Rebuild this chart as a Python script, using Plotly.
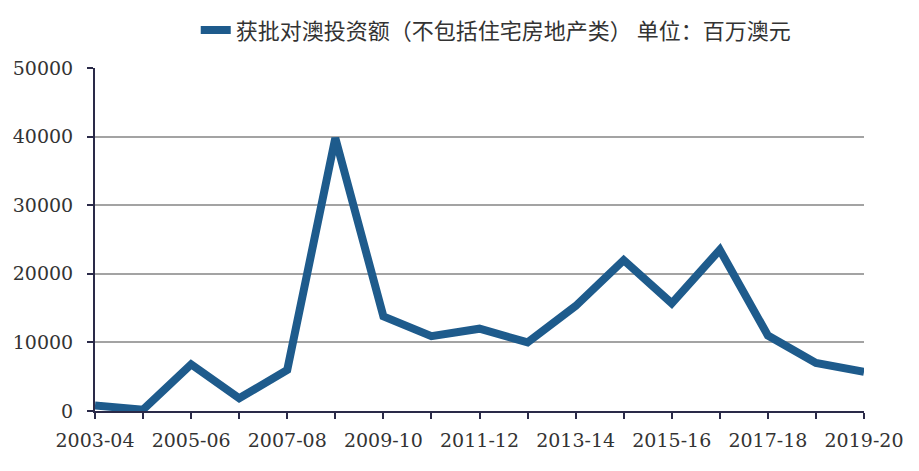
import plotly.graph_objects as go

categories = ["2003-04", "2004-05", "2005-06", "2006-07", "2007-08", "2008-09",
              "2009-10", "2010-11", "2011-12", "2012-13", "2013-14", "2014-15",
              "2015-16", "2016-17", "2017-18", "2018-19", "2019-20"]
values = [800, 200, 6800, 1850, 6000, 39800, 13800, 10900, 12000, 10000,
          15300, 22000, 15700, 23500, 11000, 7000, 5700]
series_name = "获批对澳投资额（不包括住宅房地产类） 单位：百万澳元"
y_ticks = [0, 10000, 20000, 30000, 40000, 50000]

x_idx = list(range(len(categories)))

fig = go.Figure()
fig.add_trace(go.Scatter(
    x=x_idx, y=values, mode="lines", name=series_name,
    line=dict(color="#1e5b8c", width=8),
    showlegend=True,
))

fig.update_layout(
    width=911, height=463,
    margin=dict(l=87, r=55, t=60, b=60, autoexpand=False),
    paper_bgcolor="white", plot_bgcolor="white",
    showlegend=True,
    legend=dict(orientation="h", x=0.131, xanchor="left", y=1.11, yanchor="middle",
                font=dict(family="Noto Sans CJK SC", size=22, color="#333333"),
                bgcolor="rgba(0,0,0,0)"),
    font=dict(family="DejaVu Serif", size=19, color="#333333"),
)
fig.update_xaxes(
    range=[0, len(categories) - 1],
    tickvals=x_idx[::2], ticktext=categories[::2],
    ticks="outside", ticklen=6, tickcolor="#2a2a48", tickwidth=2,
    ticklabelstandoff=5,
    minor=dict(dtick=1, tick0=0, ticks="outside", ticklen=6, tickcolor="#2a2a48", tickwidth=2, showgrid=False),
    showline=True, linecolor="#2a2a48", linewidth=2,
    showgrid=False, zeroline=False,
    tickfont=dict(family="DejaVu Serif", size=19, color="#333333"),
)
fig.update_yaxes(
    range=[0, 50000], tickvals=y_ticks, ticktext=[str(v) for v in y_ticks],
    ticks="outside", ticklen=6, tickcolor="#2a2a48", tickwidth=2,
    ticklabelstandoff=10,
    showline=True, linecolor="#2a2a48", linewidth=2,
    showgrid=True, gridcolor="#a3a3a3", gridwidth=1.5,
    zeroline=False,
    tickfont=dict(family="DejaVu Serif", size=19, color="#333333"),
)

fig.write_html("out.html")
